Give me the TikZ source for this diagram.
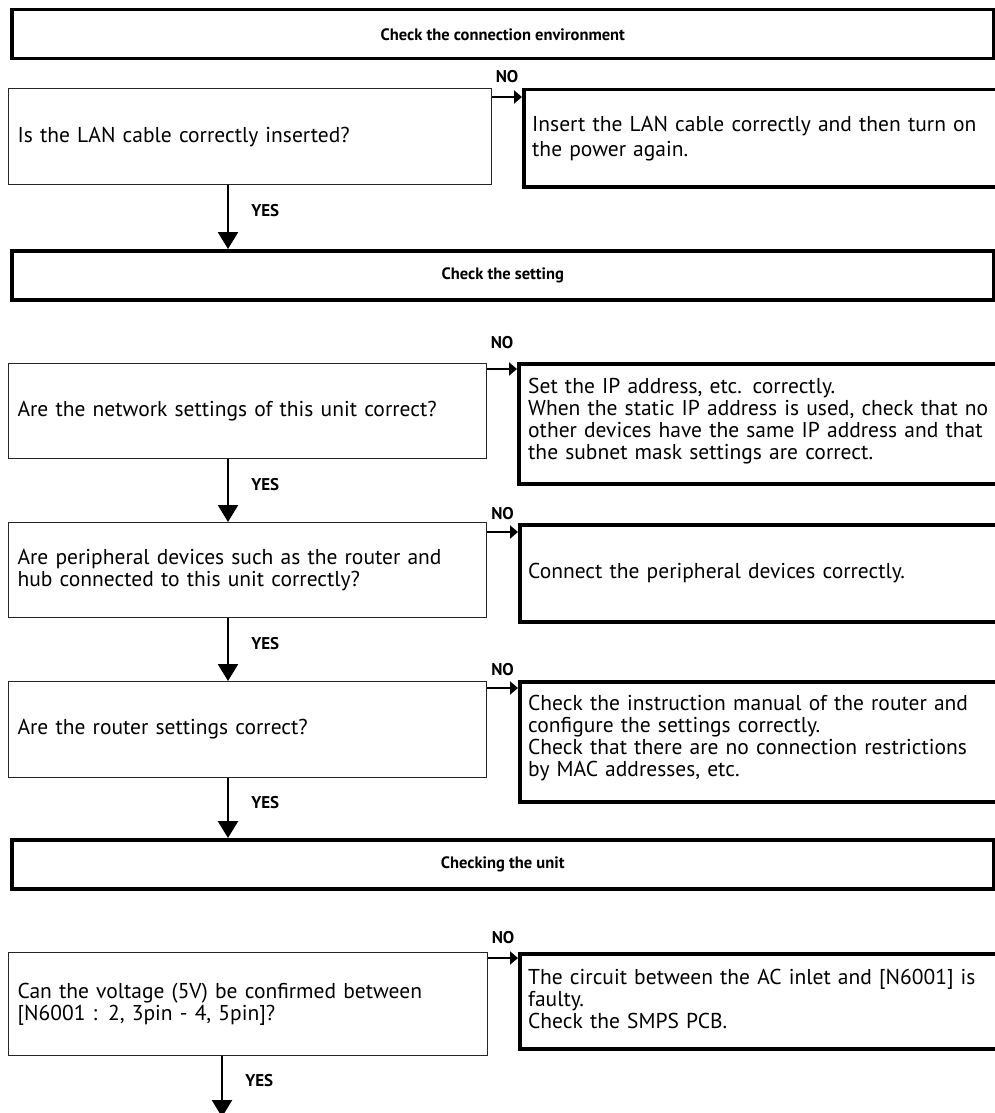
\documentclass[tikz,border=0pt]{standalone}
\usepackage{fontspec}
\setmainfont{PT Sans}
\usetikzlibrary{arrows.meta}
\begin{document}
\begin{tikzpicture}[x=1pt,y=-1pt,
  hdr/.style={draw, line width=3.5pt, anchor=north west, minimum width=982pt, minimum height=49pt, inner sep=0pt, font=\bfseries\fontsize{16.5}{19}\selectfont},
  dec/.style={draw=black!85, line width=1.2pt, anchor=north west, inner xsep=9pt, inner ysep=0pt, align=left, font=\fontsize{21.5}{22}\selectfont},
  act/.style={draw, line width=3.5pt, anchor=north west, minimum width=500pt, inner sep=0pt},
  acttext/.style={anchor=north west, inner sep=0pt, text width=490pt, align=left, font=\fontsize{21.5}{22}\selectfont},
  yesarrow/.style={line width=2.5pt, -{Triangle[width=20pt,length=17pt]}},
  noarrow/.style={line width=2.5pt, -{Triangle[width=13pt,length=8pt]}},
  yeslbl/.style={anchor=west, xshift=22pt, inner sep=0pt, font=\bfseries\fontsize{17}{19}\selectfont},
  nolbl/.style={anchor=south, inner sep=0pt, font=\bfseries\fontsize{17}{19}\selectfont}
]
\useasboundingbox (0,0) rectangle (995,1113);

% headers
\node[hdr] (h1) at (10,8) {Check the connection environment};
\node[hdr] (h2) at (10,249) {Check the setting};
\node[hdr] (h3) at (10,838) {Checking the unit};

% decisions
\node[dec, text width=465pt, minimum height=96pt] (d1) at (8,88) {Is the LAN cable correctly inserted?};
\node[dec, text width=460pt, minimum height=95pt] (d2) at (8,363) {Are the network settings of this unit correct?};
\node[dec, text width=460pt, minimum height=95pt] (d3) at (8,522) {Are peripheral devices such as the router and\\hub connected to this unit correctly?};
\node[dec, text width=460pt, minimum height=96pt] (d4) at (8,681) {Are the router settings correct?};
\node[dec, text width=461pt, minimum height=103pt] (d5) at (8,952) {Can the voltage (5V) be confirmed between\\{[N6001 : 2, 3pin - 4, 5pin]?}};

% actions
\node[act, minimum height=97pt] (a1) at (522,88) {};
\node[act, minimum height=120pt] (a2) at (517,362) {};
\node[act, minimum height=97pt] (a3) at (518,523) {};
\node[act, minimum height=120pt] (a4) at (518,680) {};
\node[act, minimum height=95pt] (a5) at (518,952) {};

\node[acttext, font=\fontsize{21.5}{25}\selectfont] (a1t) at ([xshift=10pt,yshift=-28pt]a1.north west) {Insert the LAN cable correctly and then turn on\\the power again.};
\node[acttext] (a2t) at ([xshift=11pt,yshift=-15.5pt]a2.north west) {Set the IP address, etc. correctly.\\When the static IP address is used, check that no\\other devices have the same IP address and that\\the subnet mask settings are correct.};
\node[acttext, anchor=west] (a3t) at ([xshift=10pt]a3.west) {Connect the peripheral devices correctly.};
\node[acttext] (a4t) at ([xshift=10pt,yshift=-15pt]a4.north west) {Check the instruction manual of the router and\\configure the settings correctly.\\Check that there are no connection restrictions\\by MAC addresses, etc.};
\node[acttext] (a5t) at ([xshift=10pt,yshift=-17pt]a5.north west) {The circuit between the AC inlet and [N6001] is\\faulty.\\Check the SMPS PCB.};

% YES arrows
\coordinate (ax) at (228,0);
\coordinate (bx) at (222,0);
\coordinate (yend) at (222,1117);
\draw[yesarrow] (ax |- d1.south) -- (ax |- h2.north) node[yeslbl, pos=0.4] {YES};
\draw[yesarrow] (ax |- d2.south) -- (ax |- d3.north) node[yeslbl, pos=0.4] {YES};
\draw[yesarrow] (ax |- d3.south) -- (ax |- d4.north) node[yeslbl, pos=0.4] {YES};
\draw[yesarrow] (ax |- d4.south) -- (ax |- h3.north) node[yeslbl, pos=0.4] {YES};
\draw[yesarrow] (bx |- d5.south) -- (yend) node[yeslbl, pos=0.4] {YES};

% NO arrows
\coordinate (n1) at ([yshift=-9pt]d1.north east);
\coordinate (n2) at ([yshift=-6pt]d2.north east);
\coordinate (n3) at ([yshift=-10pt]d3.north east);
\coordinate (n4) at ([yshift=-7pt]d4.north east);
\coordinate (n5) at ([yshift=-6pt]d5.north east);
\draw[noarrow] (n1) -- (n1 -| a1.west) node[nolbl, midway, yshift=13pt] {NO};
\draw[noarrow] (n2) -- (n2 -| a2.west) node[nolbl, midway, yshift=19pt] {NO};
\draw[noarrow] (n3) -- (n3 -| a3.west) node[nolbl, midway, yshift=11pt] {NO};
\draw[noarrow] (n4) -- (n4 -| a4.west) node[nolbl, midway, yshift=11pt] {NO};
\draw[noarrow] (n5) -- (n5 -| a5.west) node[nolbl, midway, yshift=13pt] {NO};
\end{tikzpicture}
\end{document}
